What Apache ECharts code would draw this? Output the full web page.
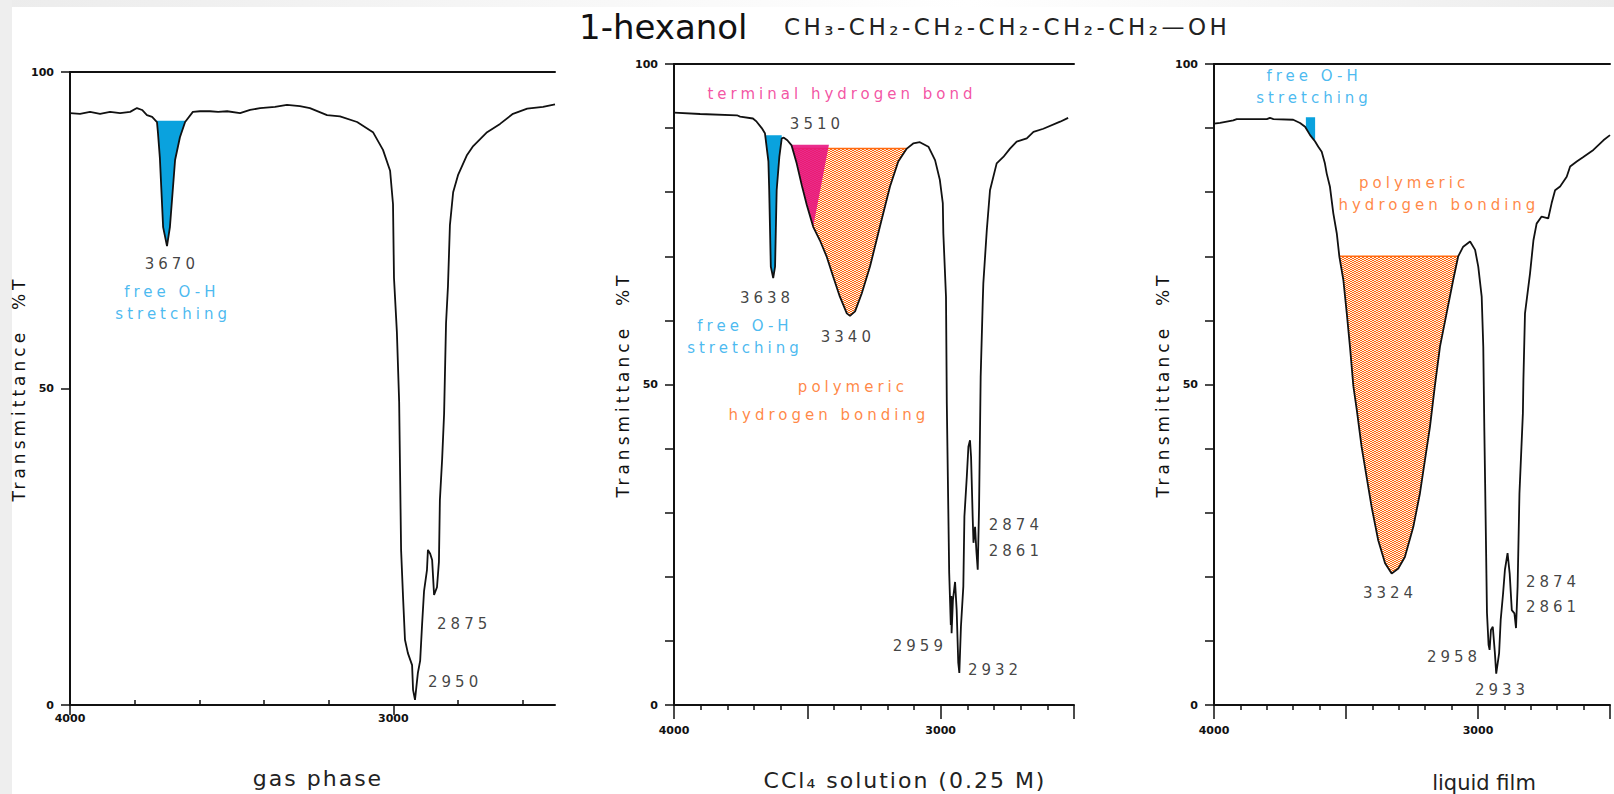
<!DOCTYPE html>
<html>
<head>
<meta charset="utf-8">
<title>1-hexanol IR</title>
<script src="https://cdn.jsdelivr.net/npm/echarts@6.0.0/dist/echarts.min.js"></script>
<style>
  html, body { margin: 0; padding: 0; }
  body {
    width: 1614px; height: 794px; overflow: hidden;
    background:
      linear-gradient(to right, #eeeeee 0, #eeeeee 12px, rgba(255,255,255,0) 12px),
      linear-gradient(to right, #ececec 0, rgba(255,255,255,0) 60%, #ececec 100%) top left / 100% 7px no-repeat,
      #fff;
  }
  #main { width: 1614px; height: 794px; }
  /* the original uses a widely spaced pixel font */
  #main text[style*="wideA"] { letter-spacing: 4px; }
  #main text[style*="wideB"] { letter-spacing: 2px; }
  #main text[style*="wideC"] { letter-spacing: 3.5px; }
</style>
</head>
<body>
<div id="main"></div>
<script>
// ---------- 数据: wavenumber (cm-1) / transmittance (%T) ----------
// gas phase
var gasWn = [4000, 3969, 3938, 3907, 3876, 3845, 3814, 3793, 3777, 3762, 3746, 3731, 3728, 3722, 3712, 3700, 3691, 3675, 3660, 3644,
  3620, 3598, 3567, 3542, 3514, 3474, 3443, 3412, 3366, 3329, 3289, 3258, 3205, 3165, 3112, 3063, 3032, 3010, 3001, 2998,
  2989, 2982, 2976, 2970, 2964, 2955, 2942, 2939, 2933, 2924, 2917, 2911, 2905, 2896, 2893, 2886, 2880, 2874, 2865, 2859,
  2856, 2849, 2843, 2837, 2831, 2825, 2815, 2800, 2772, 2753, 2710, 2670, 2630, 2586, 2537, 2500];
var gasT = [93.5, 93.4, 93.7, 93.4, 93.7, 93.5, 93.7, 94.3, 94.0, 93.2, 92.9, 92.1, 90.4, 86.4, 75.5, 72.5, 75.5, 86.1, 89.7, 92.1,
  93.7, 93.8, 93.8, 93.7, 93.8, 93.5, 94.0, 94.3, 94.5, 94.8, 94.6, 94.3, 93.2, 93.0, 92.1, 90.5, 87.7, 84.4, 79.1, 67.5,
  58.9, 47.9, 24.5, 17.1, 10.3, 8.2, 6.3, 2.4, 0.8, 5.1, 7.0, 12.8, 18.0, 21.3, 24.5, 23.9, 22.9, 17.4, 18.6, 22.6,
  32.4, 38.9, 46.0, 60.3, 66.2, 75.8, 81.0, 83.7, 86.9, 88.3, 90.5, 91.8, 93.4, 94.2, 94.5, 94.9];

// CCl4 solution (0.25 M)
var cclWn = [4000, 3902, 3764, 3752, 3704, 3690, 3671, 3659, 3646, 3643, 3637, 3628, 3621, 3615, 3605, 3596, 3588, 3575, 3559, 3540,
  3521, 3502, 3478, 3453, 3427, 3403, 3378, 3352, 3340, 3321, 3296, 3265, 3228, 3190, 3159, 3127, 3103, 3078, 3046, 3021,
  3003, 2992, 2990, 2980, 2977, 2968, 2962, 2960, 2959, 2954, 2946, 2940, 2934, 2930, 2924, 2915, 2911, 2902, 2896, 2890,
  2886, 2880, 2877, 2871, 2866, 2861, 2856, 2850, 2842, 2840, 2827, 2815, 2790, 2765, 2740, 2715, 2677, 2652, 2615, 2552, 2522];
var cclT = [92.4, 92.2, 92.0, 91.8, 91.5, 91.0, 90.0, 89.2, 84.8, 80.3, 68.4, 66.6, 68.4, 80.3, 85.5, 88.4, 88.5, 88.1, 87.3, 84.5,
  81.1, 78.0, 74.6, 72.5, 69.9, 66.8, 63.7, 61.1, 60.7, 61.4, 64.2, 68.4, 74.6, 80.9, 84.8, 86.8, 87.6, 87.8, 87.1, 85.0,
  81.9, 78.3, 73.6, 63.7, 47.1, 20.6, 12.5, 17.0, 11.2, 16.4, 19.2, 14.8, 6.6, 5.0, 12.2, 18.5, 29.4, 35.6, 40.3, 41.3,
  38.7, 29.4, 25.3, 27.8, 24.0, 21.1, 30.9, 51.2, 63.2, 65.8, 74.1, 80.3, 84.5, 85.5, 86.8, 87.9, 88.4, 89.4, 89.9, 91.0, 91.6];

// liquid film
var liqWn = [4000, 3977, 3927, 3914, 3800, 3788, 3775, 3700, 3674, 3655, 3636, 3617, 3605, 3592, 3580, 3573, 3561, 3548, 3535, 3525,
  3510, 3497, 3485, 3472, 3459, 3441, 3422, 3403, 3378, 3352, 3327, 3302, 3277, 3245, 3220, 3201, 3182, 3163, 3144, 3119,
  3094, 3075, 3056, 3030, 3011, 2999, 2986, 2980, 2976, 2973, 2966, 2960, 2956, 2951, 2944, 2936, 2931, 2920, 2914, 2905,
  2898, 2888, 2880, 2872, 2862, 2856, 2850, 2843, 2830, 2828, 2822, 2803, 2790, 2778, 2759, 2734, 2721, 2708, 2689, 2664,
  2651, 2626, 2601, 2563, 2525, 2500];
var liqT = [90.7, 90.8, 91.2, 91.4, 91.4, 91.6, 91.4, 91.3, 90.8, 90.2, 88.9, 87.9, 87.1, 86.3, 84.5, 82.9, 80.9, 76.7, 73.6, 69.9,
  66.3, 61.1, 55.9, 49.7, 46.0, 40.3, 35.6, 30.9, 25.7, 22.1, 20.5, 21.3, 23.1, 27.8, 33.0, 38.2, 43.4, 49.9, 55.9, 61.1,
  66.3, 70.0, 71.5, 72.3, 71.0, 68.4, 63.7, 55.9, 42.9, 34.6, 14.4, 9.4, 8.6, 11.7, 12.2, 8.1, 4.9, 8.1, 13.3, 17.4,
  21.1, 23.7, 20.5, 14.8, 14.3, 12.0, 18.5, 33.0, 45.5, 50.7, 61.1, 67.3, 72.5, 75.1, 76.2, 75.9, 78.3, 80.3, 80.9, 82.4,
  84.0, 84.8, 85.5, 86.6, 88.1, 88.9];

// 标记区域: [high wavenumber, low wavenumber], fill level (%T)
var gasOhBand = [3731, 3644], gasOhLevel = 92.3;
var cclOhBand = [3659, 3596], cclOhLevel = 88.9;
var cclTermBand = [3559, 3478], cclTermEdge = 3419, cclTermLevel = 87.4;
var cclPolyBand = [3555, 3127], cclPolyLevel = 86.8;
var liqOhBand = [3652, 3617], liqOhLevel = 91.7;
var liqPolyBand = [3525, 3075], liqPolyLevel = 70.0;

// 刻度
var gasMajorTicks = [4000, 3000];
var gasMinorTicks = [3800, 3600, 3400, 3200, 2800, 2600];
var wideMajorTicks = [4000, 3500, 3000, 2500];
var xTickLabels = [4000, 3000];
var yTickLabels = [0, 50, 100];

// 注释文字
var gasNotes = ['3670', 'free O-H', 'stretching', '2875', '2950'];
var gasNoteWn = [3685, 3685, 3681, 2781, 2809];
var gasNoteT = [69.7, 65.2, 61.8, 12.8, 3.6];
var gasNoteKind = ['num', 'oh', 'oh', 'num', 'num'];

var cclNotes = ['terminal hydrogen bond', '3510', '3638', 'free O-H', 'stretching', '3340', 'polymeric', 'hydrogen bonding', '2874', '2861', '2959', '2932'];
var cclNoteWn = [3370, 3464, 3651, 3734, 3734, 3348, 3329, 3419, 2718, 2718, 3078, 2796];
var cclNoteT = [95.3, 90.6, 63.5, 59.1, 55.7, 57.4, 49.6, 45.2, 28.1, 24.0, 9.2, 5.5];
var cclNoteKind = ['term', 'num', 'num', 'oh', 'oh', 'num', 'poly', 'poly', 'num', 'num', 'num', 'num'];

var liqNotes = ['free O-H', 'stretching', 'polymeric', 'hydrogen bonding', '3324', '2874', '2861', '2958', '2933'];
var liqNoteWn = [3621, 3621, 3242, 3148, 3333, 2716, 2716, 3091, 2909];
var liqNoteT = [98.1, 94.7, 81.4, 78.0, 17.5, 19.2, 15.3, 7.5, 2.3];
var liqNoteKind = ['oh', 'oh', 'poly', 'poly', 'num', 'num', 'num', 'num', 'num'];

// ---------- 样式 ----------
var ink = '#111111';
var ohFill = '#0aa2de';
var termFill = '#e8157f';
var polyOrange = '#ff6a10';
var noteColor = { num: ink, oh: '#1aa8ec', term: '#f0288c', poly: '#ff6a13' };
var noteFont = "'DejaVu Sans', wideA, sans-serif";
var tickFont = "'DejaVu Sans', sans-serif";

function pairs(xs, ys) {
  return xs.map(function (x, i) { return [x, ys[i]]; });
}

// 在曲线上取某波数处的透过率 (用于封闭填充区域的两端)
function curveAt(xs, ys, w) {
  for (var i = 1; i < xs.length; i++) {
    if (xs[i] <= w) {
      var f = (xs[i - 1] - w) / (xs[i - 1] - xs[i]);
      return ys[i - 1] + f * (ys[i] - ys[i - 1]);
    }
  }
  return ys[ys.length - 1];
}

// 曲线与水平线之间的区域
function band(xs, ys, range, level) {
  var pts = [[range[0], level], [range[0], Math.min(level, curveAt(xs, ys, range[0]))]];
  for (var i = 0; i < xs.length; i++) {
    if (xs[i] < range[0] && xs[i] > range[1]) pts.push([xs[i], ys[i]]);
  }
  pts.push([range[1], Math.min(level, curveAt(xs, ys, range[1]))]);
  pts.push([range[1], level]);
  return pts;
}

function termBand() {
  var pts = [[cclTermBand[0], cclTermLevel]];
  for (var i = 0; i < cclWn.length; i++) {
    if (cclWn[i] <= cclTermBand[0] && cclWn[i] >= cclTermBand[1]) pts.push([cclWn[i], cclT[i]]);
  }
  pts.push([cclTermEdge, cclTermLevel]);
  return pts;
}

// 橙色网点填充
function dotPattern() {
  var c = document.createElement('canvas');
  c.width = 4; c.height = 2;
  var ctx = c.getContext('2d');
  ctx.fillStyle = 'rgba(255,150,80,0.12)';
  ctx.fillRect(0, 0, 4, 2);
  ctx.fillStyle = polyOrange;
  ctx.fillRect(0, 0, 2, 1);
  ctx.fillRect(2, 1, 2, 1);
  return { image: c, repeat: 'repeat', imageWidth: 4, imageHeight: 2 };
}
var polyFill = dotPattern();

function areaSeries(g, pts, level, fill, z, alpha) {
  return {
    type: 'line', xAxisIndex: 3 * g, yAxisIndex: g, data: pts,
    symbol: 'none', silent: true, z: z || 1,
    lineStyle: { width: 0, opacity: 0 },
    areaStyle: { color: fill, opacity: alpha || 1, origin: level }
  };
}

function levelLine(g, range, level) {
  return {
    type: 'line', xAxisIndex: 3 * g, yAxisIndex: g, symbol: 'none', silent: true, z: 2,
    data: [[range[0], level], [range[1], level]],
    lineStyle: { color: polyOrange, width: 1.5 }
  };
}

function curve(g, xs, ys) {
  return {
    type: 'line', xAxisIndex: 3 * g, yAxisIndex: g, data: pairs(xs, ys),
    symbol: 'none', silent: true, z: 4,
    lineStyle: { color: ink, width: 1.8 }
  };
}

function notes(g, txt, xs, ys, kind) {
  return {
    type: 'scatter', xAxisIndex: 3 * g, yAxisIndex: g, silent: true, z: 5,
    symbolSize: 1, itemStyle: { color: 'transparent' },
    label: { show: true, position: 'inside', fontSize: 15, fontFamily: noteFont },
    data: txt.map(function (s, i) {
      return { value: [xs[i], ys[i]], label: { formatter: s, color: noteColor[kind[i]] } };
    })
  };
}

// ---------- 坐标轴 ----------
var axisLineStyle = { color: ink, width: 2 };
var tickLabelStyle = { color: ink, fontSize: 11, fontWeight: 'bold', fontFamily: tickFont };

function plainNumber(v) { return String(v); }

function bottomAxis(g, major, tickLen, labelGap, minor) {
  var ax = {
    type: 'value', gridIndex: g, min: 2500, max: 4000, interval: 500, inverse: true, position: 'bottom',
    axisLine: { show: true, onZero: false, lineStyle: axisLineStyle },
    axisTick: { show: true, customValues: major, length: tickLen, lineStyle: { color: ink, width: 1.5 } },
    axisLabel: Object.assign({ show: true, customValues: xTickLabels, margin: labelGap, formatter: plainNumber }, tickLabelStyle),
    splitLine: { show: false }
  };
  if (minor) ax.minorTick = { show: true, splitNumber: 5, length: 5, lineStyle: { color: ink, width: 1.5 } };
  return ax;
}

function innerTickAxis(g, ticks) {
  return {
    type: 'value', gridIndex: g, min: 2500, max: 4000, inverse: true, position: 'bottom',
    show: !!ticks,
    axisLine: { show: false, onZero: false },
    axisTick: { show: !!ticks, inside: true, customValues: ticks || [], length: 5, lineStyle: { color: ink, width: 1.5 } },
    axisLabel: { show: false },
    splitLine: { show: false }
  };
}

function topAxis(g) {
  return {
    type: 'value', gridIndex: g, min: 2500, max: 4000, inverse: true, position: 'top',
    axisLine: { show: true, onZero: false, lineStyle: axisLineStyle },
    axisTick: { show: false }, axisLabel: { show: false }, splitLine: { show: false }
  };
}

function leftAxis(g, interval, nameGap) {
  return {
    type: 'value', gridIndex: g, min: 0, max: 100, interval: interval, position: 'left',
    axisLine: { show: true, onZero: false, lineStyle: axisLineStyle },
    axisTick: { show: true, length: 9, lineStyle: { color: ink, width: 1.5 } },
    axisLabel: Object.assign({ show: true, customValues: yTickLabels, margin: 16, formatter: plainNumber }, tickLabelStyle),
    splitLine: { show: false },
    name: 'Transmittance  %T', nameLocation: 'middle', nameRotate: 90, nameGap: nameGap,
    nameTextStyle: { color: ink, fontSize: 17, fontFamily: noteFont }
  };
}

var chart = echarts.init(document.getElementById('main'), null, { renderer: 'svg', width: 1614, height: 794 });

var option = {
  animation: false,
  grid: [
    { left: 70, top: 72, width: 485, height: 633 },
    { left: 674, top: 64, width: 400, height: 641 },
    { left: 1214, top: 64, width: 396, height: 641 }
  ],
  xAxis: [
    bottomAxis(0, gasMajorTicks, 10, 8, false), innerTickAxis(0, gasMinorTicks), topAxis(0),
    bottomAxis(1, wideMajorTicks, 14, 20, true), innerTickAxis(1, null), topAxis(1),
    bottomAxis(2, wideMajorTicks, 14, 20, true), innerTickAxis(2, null), topAxis(2)
  ],
  yAxis: [leftAxis(0, 50, 42), leftAxis(1, 10, 38), leftAxis(2, 10, 36)],
  graphic: [
    { type: 'text', x: 579, y: 27, silent: true,
      style: { text: '1-hexanol', fill: ink, font: "34px 'DejaVu Sans', sans-serif", textVerticalAlign: 'middle', verticalAlign: 'middle' } },
    { type: 'text', x: 784, y: 27, silent: true,
      style: { text: 'CH\u2083-CH\u2082-CH\u2082-CH\u2082-CH\u2082-CH\u2082\u2014OH', fill: '#222', font: "23px 'DejaVu Sans', wideC, sans-serif", textVerticalAlign: 'middle', verticalAlign: 'middle' } },
    { type: 'text', x: 318, y: 778, silent: true,
      style: { text: 'gas phase', fill: '#222', font: "22px 'DejaVu Sans', wideB, sans-serif", textAlign: 'center', textVerticalAlign: 'middle', verticalAlign: 'middle' } },
    { type: 'text', x: 905, y: 780, silent: true,
      style: { text: 'CCl\u2084 solution (0.25 M)', fill: '#222', font: "22px 'DejaVu Sans', wideB, sans-serif", textAlign: 'center', textVerticalAlign: 'middle', verticalAlign: 'middle' } },
    { type: 'text', x: 1484, y: 783, silent: true,
      style: { text: 'liquid film', fill: '#222', font: "21px 'DejaVu Sans', sans-serif", textAlign: 'center', textVerticalAlign: 'middle', verticalAlign: 'middle' } }
  ],
  series: [
    // gas phase
    areaSeries(0, band(gasWn, gasT, gasOhBand, gasOhLevel), gasOhLevel, ohFill),
    curve(0, gasWn, gasT),
    notes(0, gasNotes, gasNoteWn, gasNoteT, gasNoteKind),
    // CCl4
    areaSeries(1, band(cclWn, cclT, cclOhBand, cclOhLevel), cclOhLevel, ohFill),
    areaSeries(1, band(cclWn, cclT, cclPolyBand, cclPolyLevel), cclPolyLevel, polyFill, 2),
    levelLine(1, cclPolyBand, cclPolyLevel),
    areaSeries(1, termBand(), cclTermLevel, termFill, 3, 0.9),
    curve(1, cclWn, cclT),
    notes(1, cclNotes, cclNoteWn, cclNoteT, cclNoteKind),
    // liquid film
    areaSeries(2, band(liqWn, liqT, liqOhBand, liqOhLevel), liqOhLevel, ohFill),
    areaSeries(2, band(liqWn, liqT, liqPolyBand, liqPolyLevel), liqPolyLevel, polyFill, 2),
    levelLine(2, liqPolyBand, liqPolyLevel),
    curve(2, liqWn, liqT),
    notes(2, liqNotes, liqNoteWn, liqNoteT, liqNoteKind)
  ]
};

chart.setOption(option);
</script>
</body>
</html>
